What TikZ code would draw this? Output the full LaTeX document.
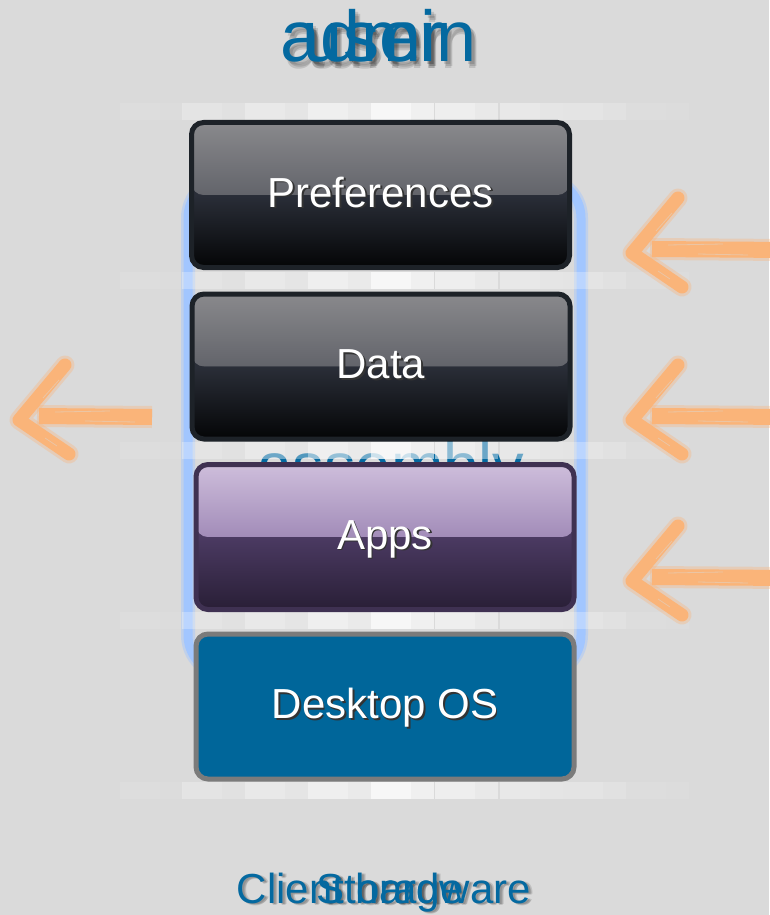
\documentclass[tikz,border=0pt]{standalone}
\usepackage{fontspec}
\setmainfont{Liberation Sans}

\definecolor{bg}{HTML}{DADADA}
\definecolor{titleblue}{HTML}{0469A0}
\definecolor{osblue}{HTML}{00669A}
\definecolor{frameblue}{HTML}{A2C6FF}
\definecolor{brush}{HTML}{FAB479}
\definecolor{darkrim}{HTML}{1D2228}
\definecolor{purplerim}{HTML}{3F3152}
\definecolor{grayrim}{HTML}{7B7B7B}
% gloss colours: dark layers
\definecolor{darktopA}{HTML}{8A8A8D}
\definecolor{darktopB}{HTML}{3C3F49}
\definecolor{darklowA}{HTML}{2A2E38}
\definecolor{darklowB}{HTML}{030405}
% gloss colours: purple layer
\definecolor{purptopA}{HTML}{CFBFDC}
\definecolor{purptopB}{HTML}{765A96}
\definecolor{purplowA}{HTML}{4B3A62}
\definecolor{purplowB}{HTML}{281E35}

% white text with a small dark drop shadow
\newcommand\shtext[1]{\leavevmode\rlap{\hspace{1.8pt}\raisebox{-1.8pt}{\color{black!80}#1}}#1}

\tikzset{
  layer/.style={draw, line width=5pt, rounded corners=12pt,
    minimum width=378pt, minimum height=145pt, inner sep=0pt,
    text=white, font=\fontsize{42}{42}\selectfont,
    text height=24pt, text depth=-24pt},
  gloss/.style n args={4}{fill=#3, path picture={
    \shade[top color=#1, bottom color=#2]
      ([yshift=2pt]path picture bounding box.north west) rectangle (path picture bounding box.east);
    \shade[top color=#3, bottom color=#4]
      (path picture bounding box.west) rectangle ([yshift=-2pt]path picture bounding box.south east);}},
  bigword/.style={text=titleblue, anchor=base, inner sep=0pt},
  shadowword/.style={text=black, text opacity=0.12, anchor=base, inner sep=0pt},
  brushstroke/.style={draw=brush, line cap=round, line join=round},
  pics/brusharrow/.style={code={
    % soft edge of the head, then the head
    \draw[brushstroke, line width=19pt, opacity=0.35] (50,-55) -- (4,0) -- (54,34);
    \draw[brushstroke, line width=13pt] (50,-55) -- (4,0) -- (54,34);
    % soft edge of the shaft, then the shaft
    \draw[brushstroke, line width=22pt, opacity=0.35, line cap=butt] (22,-4) -- (#1,-3);
    \draw[brushstroke, line width=16pt, line cap=butt] (24,-4) -- (#1,-3);
    % dry-brush streaks
    \draw[bg, line width=0.8pt, opacity=0.45] (40,-8) -- (95,-9) (70,1) -- (120,2);
    \draw[bg, line width=0.8pt, opacity=0.45] (28,-22) -- (44,-40) (30,18) -- (42,26);
  }}
}

\begin{document}
\begin{tikzpicture}[x=1pt, y=-1pt]
  \fill[bg] (0,0) rectangle (769,915);
  \useasboundingbox (0,0) rectangle (769,915);

  % light blue outline behind the stack
  \node[draw=frameblue, line width=14pt, opacity=0.45, rounded corners=40pt,
        minimum width=393pt, minimum height=497pt] (framehalo) at (384.5,426.5) {};
  \node[draw=frameblue, line width=9pt, rounded corners=40pt,
        minimum width=393pt, minimum height=497pt] (frame) at (384.5,426.5) {};

  % label behind the stack
  \node[bigword, font=\fontsize{63}{63}\selectfont] (assemblyword) at (391,487) {assembly};

  % pale reflection bands between the layers
  \foreach \yy in {103,272,442,612,782} {
    \foreach \xx/\oo in {120/0.1,182/0.28,245/0.42,308/0.58,371/0.8,435/0.55,500/0.4,563/0.28,626/0.1} {
      \fill[white, opacity=\oo] (\xx,\yy) rectangle ++(40,17);
      \fill[white, opacity=\oo*0.75] (\xx+40,\yy) rectangle ++(23,17);
    }
  }

  % the four layers
  \node[layer, draw=darkrim, gloss={darktopA}{darktopB}{darklowA}{darklowB}] (pref) at (380.5,195) {\shtext{Preferences}};
  \node[layer, draw=darkrim, gloss={darktopA}{darktopB}{darklowA}{darklowB}] (data) at (381,366.5) {\shtext{Data}};
  \node[layer, draw=purplerim, gloss={purptopA}{purptopB}{purplowA}{purplowB}] (apps) at (385,537) {\shtext{Apps}};
  \node[layer, draw=grayrim, fill=osblue] (desktop) at (385,706.5) {\shtext{Desktop OS}};

  % brush arrows
  \pic (leftarrow) at (15,420) {brusharrow=137};
  \pic (prefarrow) at (628,253) {brusharrow=160};
  \pic (dataarrow) at (628,420) {brusharrow=160};
  \pic (appsarrow) at (628,581) {brusharrow=160};

  % titles, each over a soft shadow
  \foreach \dx/\dy [count=\k] in {3/3,5/5,4/7} {
    \node[shadowword, font=\fontsize{72}{72}\selectfont] (adminshadow\k) at (379+\dx,62+\dy) {admin};
    \node[shadowword, font=\fontsize{72}{72}\selectfont] (usershadow\k) at (373+\dx,62+\dy) {user};
  }
  \foreach \dx/\dy [count=\k] in {2/1,3/2,4/1} {
    \node[shadowword, font=\fontsize{42}{42}\selectfont] (clientshadow\k) at (384+\dx,903+\dy) {Client hardware};
    \node[shadowword, font=\fontsize{42}{42}\selectfont] (storageshadow\k) at (390+\dx,903+\dy) {Storage};
  }
  \node[bigword, font=\fontsize{72}{72}\selectfont] (admin) at (379,62) {admin};
  \node[bigword, font=\fontsize{72}{72}\selectfont] (user) at (373,62) {user};
  \node[bigword, font=\fontsize{42}{42}\selectfont] (client) at (384,903) {Client hardware};
  \node[bigword, font=\fontsize{42}{42}\selectfont] (storage) at (390,903) {Storage};
\end{tikzpicture}
\end{document}
